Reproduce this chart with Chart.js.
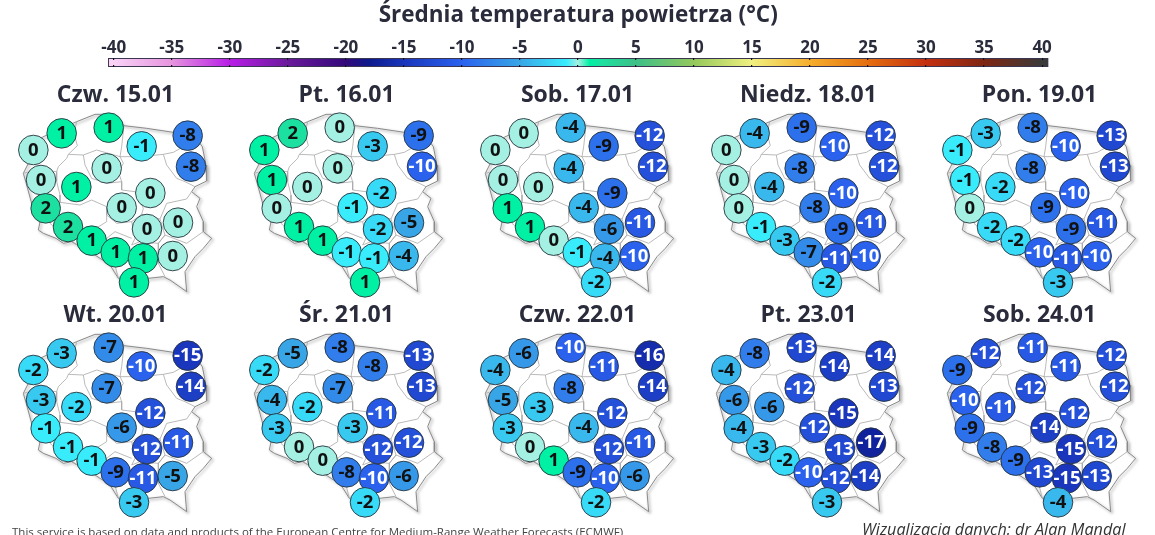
<!DOCTYPE html>
<html lang="pl"><head><meta charset="utf-8">
<script src="https://cdn.jsdelivr.net/npm/chart.js@4"></script>
<style>
html,body{margin:0;padding:0;background:#fff;width:1155px;height:535px;overflow:hidden;position:relative}
canvas{position:absolute;display:block}
.foot{position:absolute;white-space:nowrap;color:#333;font-family:"Open Sans",sans-serif}
</style></head><body>
<div id="root"></div>
<div class="foot" style="left:12px;top:524px;font-size:11.5px;color:#444">This service is based on data and products of the European Centre for Medium-Range Weather Forecasts (ECMWF)</div>
<div class="foot" style="left:862px;top:518px;font-size:16.2px;font-style:italic">Wizualizacja danych: dr Alan Mandal</div>
<script>
const mainTitle = 'Średnia temperatura powietrza (°C)';
const scaleTicks = [-40,-35,-30,-25,-20,-15,-10,-5,0,5,10,15,20,25,30,35,40];
const paletteValues = [-40,-35,-30,-25,-20,-18,-15,-10,-5,-1,0,1,2,5,10,15,20,25,30,35,40];
const paletteColors = ['#f9d2f6','#e694de','#b81ee6','#6a1a9c','#33087a','#0c1a8c','#1a36bc','#2a62ee','#38a6e6','#38ecfc','#a4f0e2','#00f0a4','#1ce0a0','#3cc088','#94c85c','#f0f080','#f6ae2c','#e46e10','#c43010','#7e2612','#3a3a3a'];

const dayLabels = ['Czw. 15.01','Pt. 16.01','Sob. 17.01','Niedz. 18.01','Pon. 19.01','Wt. 20.01','Śr. 21.01','Czw. 22.01','Pt. 23.01','Sob. 24.01'];
const stationNames = ['Koszalin','Gdańsk','Suwałki','Szczecin','Olsztyn','Białystok','Bydgoszcz','Gorzów','Poznań','Warszawa','Zielona Góra','Łódź','Lublin','Kielce','Wrocław','Opole','Rzeszów','Katowice','Kraków','Zakopane'];
const stationX = [185,326,563,100,425,573,320,123,229,451,137,365,534,441,204,275,518,347,429,402];
const stationY = [175,158,182,225,214,275,280,315,336,354,400,398,443,462,456,497,543,532,550,622];

const temp1501 = [1,1,-8,0,-1,-8,0,0,1,0,2,0,0,0,2,1,0,1,1,1];
const temp1601 = [2,0,-9,1,-3,-10,0,1,0,-2,0,-1,-5,-2,1,1,-4,-1,-1,1];
const temp1701 = [0,-4,-12,0,-9,-12,-4,0,0,-9,1,-4,-11,-6,1,0,-10,-1,-4,-2];
const temp1801 = [-4,-9,-12,0,-10,-12,-8,0,-4,-10,0,-8,-11,-9,-1,-3,-10,-7,-11,-2];
const temp1901 = [-3,-8,-13,-1,-10,-13,-8,-1,-2,-10,0,-9,-11,-9,-2,-2,-10,-10,-11,-3];
const temp2001 = [-3,-7,-15,-2,-10,-14,-7,-3,-2,-12,-1,-6,-11,-12,-1,-1,-5,-9,-11,-3];
const temp2101 = [-5,-8,-13,-2,-8,-13,-7,-4,-2,-11,-3,-3,-12,-12,0,0,-6,-8,-10,-2];
const temp2201 = [-6,-10,-16,-4,-11,-14,-8,-5,-3,-12,-3,-4,-11,-12,0,1,-6,-9,-10,-2];
const temp2301 = [-8,-13,-14,-4,-14,-13,-12,-6,-6,-15,-4,-12,-17,-13,-3,-2,-14,-10,-12,-3];
const temp2401 = [-12,-11,-12,-9,-11,-12,-12,-10,-11,-12,-9,-14,-12,-15,-8,-9,-13,-13,-15,-4];
const dayTemps = [temp1501,temp1601,temp1701,temp1801,temp1901,temp2001,temp2101,temp2201,temp2301,temp2401];

const borderOutline = [[145,178],[190,158],[230,140],[285,118],[345,118],[372,152],[440,160],[520,172],[590,192],[607,215],[618,270],[620,318],[585,335],[575,350],[600,370],[590,395],[610,440],[610,470],[635,490],[610,520],[585,545],[555,590],[560,650],[510,615],[490,605],[445,610],[410,640],[355,610],[330,570],[300,550],[270,530],[232,510],[215,500],[190,505],[168,490],[130,475],[115,465],[120,440],[100,410],[95,385],[80,330],[70,295],[85,265],[60,230],[100,200],[145,178]];
const provinceLines = [
 [[230,140],[222,175],[232,212],[205,238],[200,250],[175,275],[170,290]],
 [[70,295],[110,285],[170,290],[170,320],[180,360],[180,382],[155,410],[150,445]],
 [[205,238],[250,240],[290,225],[360,245],[370,265],[355,290],[365,320],[320,325],[275,310],[255,270],[250,240]],
 [[372,152],[365,215],[360,245]],
 [[360,245],[420,245],[490,238],[520,232],[590,192]],
 [[490,238],[500,270],[530,310],[555,320],[585,335]],
 [[365,320],[365,345],[405,350],[430,400],[425,418],[480,432],[500,385],[560,372],[575,350]],
 [[180,382],[240,390],[275,375],[320,395],[320,420],[350,445],[395,440],[425,418]],
 [[150,445],[200,490],[232,510]],
 [[232,470],[285,462],[320,440],[320,420]],
 [[285,462],[320,490],[345,470],[395,490]],
 [[395,440],[405,490],[395,510],[420,500],[475,505]],
 [[480,432],[495,480],[475,505],[475,565],[495,605]],
 [[475,505],[495,480],[560,505],[610,470]],
 [[320,490],[330,540],[345,570],[355,610]],
 [[232,470],[232,510],[270,530]]
];
</script>
<script>
const root = document.getElementById('root');
const hexRgb = h => [1,3,5].map(i => parseInt(h.substr(i,2),16));
function tempColor(v){
  for(let i=0;i<paletteValues.length-1;i++){
    if(v<=paletteValues[i+1]){
      const t=(v-paletteValues[i])/(paletteValues[i+1]-paletteValues[i]);
      const a=hexRgb(paletteColors[i]),b=hexRgb(paletteColors[i+1]);
      return 'rgb('+a.map((c,k)=>Math.round(c+(b[k]-c)*Math.max(t,0))).join(',')+')';
    }
  }
  return paletteColors[paletteColors.length-1];
}
function addCanvas(l,t,w,h){
  const c=document.createElement('canvas');
  c.width=w;c.height=h;c.style.left=l+'px';c.style.top=t+'px';c.style.width=w+'px';c.style.height=h+'px';
  root.appendChild(c);return c;
}
const INK='#2a2c3c';
const TITLE_FONT='"Open Sans",sans-serif';

// Colour scale
new Chart(addCanvas(0,0,1155,70),{
  type:'bar',
  data:{labels:['Skala'],datasets:[{
    data:[[-40.5,40.55]],
    borderColor:'#3a3550',borderWidth:1.3,borderSkipped:false,
    barPercentage:1,categoryPercentage:1,
    backgroundColor(ctx){
      const ca=ctx.chart.chartArea,xs=ctx.chart.scales.x;
      if(!ca||!xs)return '#888';
      const x0=xs.getPixelForValue(-40),x1=xs.getPixelForValue(40);
      const g=ctx.chart.ctx.createLinearGradient(x0,0,x1,0);
      paletteValues.forEach((v,i)=>g.addColorStop((v+40)/80,paletteColors[i]));
      return g;
    }
  }]},
  options:{
    indexAxis:'y',responsive:false,animation:false,
    layout:{autoPadding:false,padding:{left:108,right:106.5,top:0,bottom:3}},
    plugins:{legend:{display:false},tooltip:{enabled:false},
      title:{display:true,text:mainTitle,color:INK,font:{family:TITLE_FONT,size:22.5,weight:'700'},padding:{top:2,bottom:0}}},
    scales:{
      y:{display:false},
      x:{type:'linear',position:'top',min:-40.5,max:40.55,
        afterBuildTicks(s){s.ticks=scaleTicks.map(v=>({value:v}));},
        afterFit(s){s.height=29;},
        border:{display:false,dash:[2,5,2]},
        grid:{drawOnChartArea:true,drawTicks:false,color:'#111',lineWidth:1.2,z:2},
        ticks:{color:INK,font:{family:TITLE_FONT,size:17,weight:'700'},padding:0,maxRotation:0,autoSkip:false,callback:v=>String(v)}
      }
    }
  }
});

// Map panels
const shadowPlugin={id:'outlineShadow',
  beforeDatasetDraw(ch,a){const d=ch.data.datasets[a.index];if(d.isOutline){const c=ch.ctx;c.save();c.shadowColor='rgba(0,0,0,.45)';c.shadowBlur=3;c.shadowOffsetX=1.5;c.shadowOffsetY=1.5;}},
  afterDatasetDraw(ch,a){const d=ch.data.datasets[a.index];if(d.isOutline){ch.ctx.restore();}}
};
const labelPlugin={id:'bubbleText',
  afterDatasetsDraw(ch){
    const i=ch.data.datasets.findIndex(d=>d.type==='bubble');
    const els=ch.getDatasetMeta(i).data,vals=ch.data.datasets[i].temps,c=ch.ctx;
    c.save();c.font='700 18.5px "Open Sans",sans-serif';c.textAlign='center';c.textBaseline='middle';
    els.forEach((e,k)=>{c.fillStyle=vals[k]<=-10?'#fff':'#111';c.fillText(String(vals[k]),e.x,e.y+0.5);});
    c.restore();
  }
};
const PANEL_TOP=80,PANEL_H=225,ROW_STEP=220,COL_STEP=231,TITLE_H=29.6;
const toPts=a=>a.map(p=>({x:p[0],y:p[1]}));
dayLabels.forEach((label,n)=>{
  const col=n%5,row=Math.floor(n/5),temps=dayTemps[n];
  const cv=addCanvas(COL_STEP*col,PANEL_TOP+ROW_STEP*row,COL_STEP,PANEL_H);
  const ds=[{type:'line',isOutline:true,data:toPts(borderOutline),borderColor:'#8a8a8a',borderWidth:1,pointRadius:0,tension:0,fill:false,clip:false,order:3}];
  provinceLines.forEach(l=>ds.push({type:'line',data:toPts(l),borderColor:'#a8a8a8',borderWidth:.8,pointRadius:0,tension:0,fill:false,clip:false,order:2}));
  ds.push({type:'bubble',temps,data:stationX.map((x,i)=>({x,y:stationY[i],r:14.8})),
    backgroundColor:temps.map(tempColor),borderColor:'#26323c',borderWidth:.9,clip:false,order:1});
  new Chart(cv,{
    data:{datasets:ds},
    plugins:[shadowPlugin,labelPlugin],
    options:{responsive:false,animation:false,
      layout:{autoPadding:false,padding:0},
      plugins:{legend:{display:false},tooltip:{enabled:false},
        title:{display:true,text:label,color:INK,font:{family:TITLE_FONT,size:23,weight:'700'},padding:{top:2,bottom:0}}},
      scales:{
        x:{type:'linear',display:false,min:0,max:COL_STEP*3},
        y:{type:'linear',display:false,reverse:true,min:(PANEL_TOP+TITLE_H-75)*3,max:(PANEL_TOP+PANEL_H-75)*3}
      }
    }
  });
});
</script>
</body></html>
